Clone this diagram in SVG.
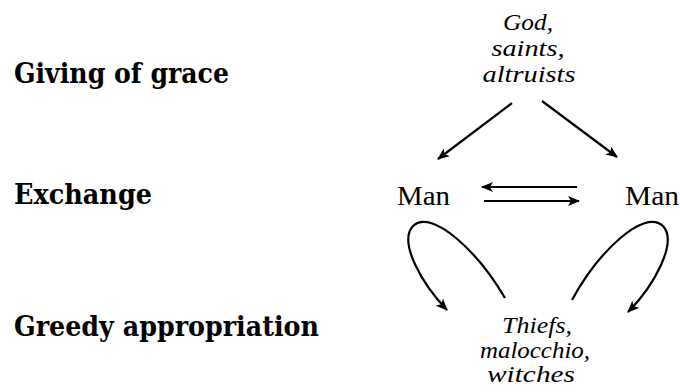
<svg xmlns="http://www.w3.org/2000/svg" width="680" height="392" viewBox="0 0 680 392">
<style>
.lbl{font-family:"DejaVu Serif","Liberation Serif",serif;font-weight:bold;font-size:27px;font-stretch:condensed;fill:#000}
.it{font-family:"Liberation Serif","DejaVu Serif",serif;font-style:italic;font-size:24px;fill:#000;text-anchor:middle}
.man{font-family:"Liberation Serif","DejaVu Serif",serif;font-size:27px;fill:#000}
.ln{fill:none;stroke:#000;stroke-width:2.2}
</style>
<defs>
<marker id="ah" viewBox="0 0 12 10" refX="11" refY="5" markerWidth="12" markerHeight="10" markerUnits="userSpaceOnUse" orient="auto">
<path d="M0,0 L12,5 L0,10 L3,5 z" fill="#000"/>
</marker>
</defs>
<g id="label-grace"><text class="lbl" x="14" y="83" textLength="215" lengthAdjust="spacingAndGlyphs">Giving of grace</text></g>
<g id="label-exchange"><text class="lbl" x="14" y="204" textLength="138" lengthAdjust="spacingAndGlyphs">Exchange</text></g>
<g id="label-greedy"><text class="lbl" x="14" y="336" textLength="305" lengthAdjust="spacingAndGlyphs">Greedy appropriation</text></g>
<g id="node-god">
<text class="it" x="528" y="30" textLength="50" lengthAdjust="spacingAndGlyphs">God,</text>
<text class="it" x="528" y="56" textLength="73" lengthAdjust="spacingAndGlyphs">saints,</text>
<text class="it" x="529" y="82" textLength="93" lengthAdjust="spacingAndGlyphs">altruists</text>
</g>
<g id="node-man-left"><text class="man" x="397" y="205" textLength="53" lengthAdjust="spacingAndGlyphs">Man</text></g>
<g id="node-man-right"><text class="man" x="625" y="205" textLength="54" lengthAdjust="spacingAndGlyphs">Man</text></g>
<g id="node-thiefs">
<text class="it" x="537" y="333" textLength="70" lengthAdjust="spacingAndGlyphs">Thiefs,</text>
<text class="it" x="535" y="358" textLength="110" lengthAdjust="spacingAndGlyphs">malocchio,</text>
<text class="it" x="531" y="382" textLength="88" lengthAdjust="spacingAndGlyphs">witches</text>
</g>
<g id="connectors">
<line class="ln" x1="512" y1="103" x2="438" y2="159" marker-end="url(#ah)"/>
<line class="ln" x1="542" y1="101" x2="617" y2="157" marker-end="url(#ah)"/>
<line class="ln" x1="577" y1="187" x2="482" y2="187" marker-end="url(#ah)"/>
<line class="ln" x1="484" y1="201" x2="579" y2="201" marker-end="url(#ah)"/>
<path class="ln" d="M505,298 C478,252 432,208 413,226 C398,242 422,284 447,310" marker-end="url(#ah)"/>
<path class="ln" d="M572,300 C598,252 644,208 663,226 C678,242 654,286 628,312" marker-end="url(#ah)"/>
</g>
</svg>
